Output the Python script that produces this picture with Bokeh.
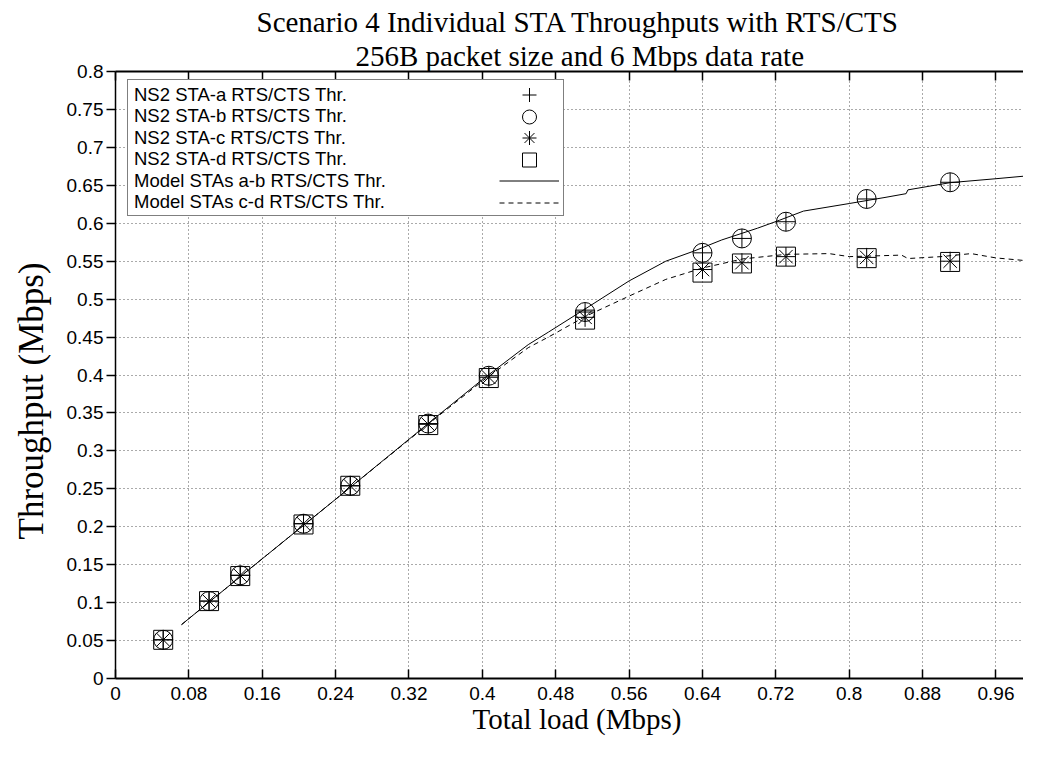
from bokeh.plotting import figure
from bokeh.models import (LinearAxis, CustomJSTickFormatter, Legend, LegendItem,
                          Title, Range1d)
from bokeh.embed import file_html
from bokeh.resources import INLINE

# ---------------- data ----------------
x_load = [0.052, 0.102, 0.136, 0.205, 0.256, 0.341, 0.407, 0.512, 0.640, 0.683, 0.731, 0.819, 0.910]
sta_a = [0.051, 0.102, 0.136, 0.204, 0.254, 0.336, 0.399, 0.483, 0.561, 0.580, 0.602, 0.632, 0.654]
sta_b = [0.051, 0.102, 0.136, 0.204, 0.254, 0.336, 0.399, 0.483, 0.561, 0.580, 0.602, 0.632, 0.654]
sta_c = [0.051, 0.102, 0.136, 0.204, 0.254, 0.335, 0.397, 0.476, 0.539, 0.548, 0.556, 0.555, 0.550]
sta_d = [0.051, 0.102, 0.135, 0.203, 0.254, 0.334, 0.396, 0.473, 0.535, 0.547, 0.556, 0.554, 0.549]

model_ab_x = [0.072, 0.15, 0.25, 0.35, 0.40, 0.45, 0.472, 0.512, 0.56, 0.60, 0.63, 0.661,
              0.70, 0.724, 0.75, 0.80, 0.839, 0.862, 0.864, 0.91, 0.96, 0.99]
model_ab_y = [0.071, 0.148, 0.246, 0.345, 0.394, 0.44, 0.4565, 0.487, 0.524, 0.55, 0.563, 0.578,
              0.5935, 0.604, 0.616, 0.626, 0.634, 0.639, 0.644, 0.6535, 0.6587, 0.662]
model_cd_x = [0.072, 0.15, 0.25, 0.35, 0.40, 0.45, 0.472, 0.512, 0.56, 0.60, 0.64, 0.684,
              0.731, 0.778, 0.80, 0.857, 0.864, 0.90, 0.933, 0.96, 0.99]
model_cd_y = [0.071, 0.148, 0.246, 0.344, 0.392, 0.436, 0.45, 0.477, 0.504, 0.526, 0.541, 0.553,
              0.559, 0.56, 0.556, 0.558, 0.5535, 0.556, 0.56, 0.5543, 0.551]

x_ticks = [0, 0.08, 0.16, 0.24, 0.32, 0.4, 0.48, 0.56, 0.64, 0.72, 0.8, 0.88, 0.96]
y_ticks = [0, 0.05, 0.1, 0.15, 0.2, 0.25, 0.3, 0.35, 0.4, 0.45, 0.5, 0.55, 0.6, 0.65, 0.7, 0.75, 0.8]

labels = ["NS2 STA-a RTS/CTS Thr.", "NS2 STA-b RTS/CTS Thr.", "NS2 STA-c RTS/CTS Thr.",
          "NS2 STA-d RTS/CTS Thr.", "Model STAs a-b RTS/CTS Thr.", "Model STAs c-d RTS/CTS Thr."]
title1 = "Scenario 4 Individual STA Throughputs with RTS/CTS"
title2 = "256B packet size and 6 Mbps data rate"
xlabel = "Total load (Mbps)"
ylabel = "Throughput (Mbps)"

SERIF = "Liberation Serif"
SANS = "Liberation Sans"

W, H = 1023, 742
BL, BR, BT, BB = 113, 0, 71, 64
frame_h = H - BT - BB

p = figure(width=W, height=H, output_backend="svg", toolbar_location=None, title=None,
           x_range=Range1d(0, 0.99), y_range=Range1d(0, 0.8),
           min_border_left=BL, min_border_right=BR, min_border_top=BT, min_border_bottom=BB)
p.outline_line_color = None
p.background_fill_color = "white"

fmt = CustomJSTickFormatter(code="return tick.toFixed(2).replace(/0+$/, '').replace(/\\.$/, '');")
blank = CustomJSTickFormatter(code="return '';")

for ax, ticks in ((p.xaxis[0], x_ticks), (p.yaxis[0], y_ticks)):
    ax.ticker = ticks
    ax.formatter = fmt
    ax.minor_tick_line_color = None
    ax.axis_line_color = "black"
    ax.major_tick_line_color = "black"
    ax.major_tick_line_width = 1.5
    ax.major_label_text_font = SANS
    ax.major_label_text_font_size = "19px"
    ax.major_label_text_color = "black"

xa = p.xaxis[0]
xa.major_tick_in = 9
xa.major_tick_out = 0
xa.axis_line_width = 2
xa.major_label_standoff = 8

ya = p.yaxis[0]
ya.major_tick_in = 0
ya.major_tick_out = 9
ya.axis_line_width = 1.5
ya.major_label_standoff = 3

top_axis = LinearAxis(ticker=x_ticks, formatter=blank, major_label_text_font_size="2px",
                      major_tick_in=9, major_tick_out=0, minor_tick_line_color=None,
                      axis_line_color="black", axis_line_width=2, major_tick_line_width=1.5,
                      major_label_standoff=0)
p.add_layout(top_axis, "above")

# titles
TF = "29px"
p.add_layout(Title(text=title2, align="left", offset=240, text_font=SERIF, text_font_size=TF,
                   text_font_style="normal", text_color="black", standoff=0), "above")
p.add_layout(Title(text=title1, align="left", offset=141, text_font=SERIF, text_font_size=TF,
                   text_font_style="normal", text_color="black", standoff=0), "above")
# axis titles
p.add_layout(Title(text=xlabel, align="left", offset=357, vertical_align="top",
                   text_font=SERIF, text_font_size="29px", text_font_style="normal",
                   text_color="black", standoff=0), "below")
p.add_layout(Title(text=ylabel, align="left", offset=139, vertical_align="top",
                   text_font=SERIF, text_font_size="35px", text_font_style="normal",
                   text_color="black", standoff=22), "left")

for g in (p.xgrid[0], p.ygrid[0]):
    g.grid_line_color = "#555555"
    g.grid_line_dash = "1 3"
    g.grid_line_width = 1

# ---------------- model lines ----------------
r_ab = p.line(model_ab_x, model_ab_y, line_color="black", line_width=1)
r_cd = p.line(model_cd_x, model_cd_y, line_color="black", line_width=1, line_dash="5 4")

# ---------------- NS2 markers ----------------
MS = 19
r_a = p.scatter(x_load, sta_a, marker="cross", size=MS, line_color="black", line_width=1)
r_b = p.scatter(x_load, sta_b, marker="circle", size=MS, line_color="black", fill_color=None, line_width=1)
r_c = p.scatter(x_load, sta_c, marker="asterisk", size=MS, line_color="black", line_width=1)
r_d = p.scatter(x_load, sta_d, marker="square", size=MS, line_color="black", fill_color=None, line_width=1)
renderers = [r_a, r_b, r_c, r_d, r_ab, r_cd]

# ---------------- legend box ----------------
ROW = 21.5
PAD = 3
TOP_OFF = 10
LEFT_OFF = 12
BOX_W = 435
box_h = int(round(6 * ROW))
box = Legend(items=[LegendItem(label="", renderers=[r_ab])],
             location=(LEFT_OFF, frame_h - TOP_OFF - box_h - 2 * PAD),
             glyph_width=0, glyph_height=box_h, label_height=box_h,
             label_width=BOX_W - 2 * PAD, label_standoff=0, spacing=0, padding=PAD, margin=0,
             label_text_font_size="10px", border_line_color="black", border_line_width=1.5,
             background_fill_color="white", background_fill_alpha=1.0)
p.add_layout(box, "center")

# legend texts, one borderless legend per row (text on the left of the box)
TH = 30
for k, (txt, r) in enumerate(zip(labels, renderers)):
    row_center_from_top = TOP_OFF + PAD + ROW / 2 + k * ROW
    leg = Legend(items=[LegendItem(label=txt, renderers=[r])],
                 location=(LEFT_OFF + 7, frame_h - row_center_from_top - TH / 2),
                 glyph_width=0, glyph_height=TH, label_height=TH, label_width=10,
                 label_standoff=0, spacing=0, padding=0, margin=0,
                 label_text_font=SANS, label_text_font_size="18.5px", label_text_color="black",
                 border_line_color=None, background_fill_alpha=0.0)
    p.add_layout(leg, "center")

# legend symbols, one borderless legend per row (symbols on the right of the box)
GH = 35
GW = 60
sym_cx = 414
for k, r in enumerate(renderers):
    row_center_from_top = TOP_OFF + PAD + ROW / 2 + k * ROW
    leg = Legend(items=[LegendItem(label="", renderers=[r])],
                 location=(sym_cx - GW / 2, frame_h - row_center_from_top - GH / 2),
                 glyph_width=GW, glyph_height=GH, label_height=GH, label_width=0,
                 label_standoff=0, spacing=0, padding=0, margin=0,
                 label_text_font_size="10px", border_line_color=None,
                 background_fill_alpha=0.0)
    p.add_layout(leg, "center")

open("out.html", "w").write(file_html(p, INLINE))
